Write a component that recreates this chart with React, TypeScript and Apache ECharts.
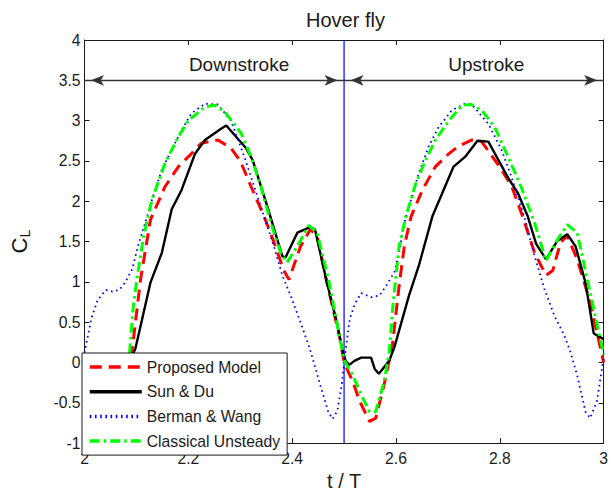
import React, { useEffect, useRef } from 'react';
import * as echarts from 'echarts';

const SERIES_NAMES = ['Proposed Model', 'Sun & Du', 'Berman & Wang', 'Classical Unsteady'];

const X_MIN = 2;
const X_MAX = 3;
const X_STEP = 0.2;
const Y_MIN = -1;
const Y_MAX = 4;
const Y_STEP = 0.5;

const proposedModel: number[][] = [
  [2.0, 0.0], [2.017, -0.24], [2.03, -0.48], [2.049, -0.73], [2.061, -0.69], [2.077, -0.25],
  [2.092, 0.17], [2.108, 1.03], [2.127, 1.77], [2.155, 2.18], [2.181, 2.43], [2.206, 2.59],
  [2.225, 2.72], [2.257, 2.76], [2.282, 2.66], [2.3, 2.5], [2.321, 2.18], [2.346, 1.81],
  [2.365, 1.49], [2.384, 1.14], [2.394, 1.03], [2.416, 1.44], [2.435, 1.65], [2.448, 1.57],
  [2.467, 0.99], [2.492, 0.3], [2.5, 0.0], [2.517, -0.24], [2.53, -0.48], [2.549, -0.73],
  [2.561, -0.69], [2.577, -0.28], [2.593, 0.21], [2.606, 0.95], [2.616, 1.44], [2.629, 1.81],
  [2.651, 2.14], [2.676, 2.43], [2.702, 2.59], [2.72, 2.68], [2.746, 2.76], [2.765, 2.74],
  [2.797, 2.45], [2.822, 2.2], [2.844, 1.81], [2.867, 1.36], [2.889, 1.08], [2.902, 1.14],
  [2.917, 1.49], [2.93, 1.57], [2.949, 1.28], [2.974, 0.75], [3.0, 0.0],
];

const sunDu: number[][] = [
  [2.0, 0.1], [2.01, 0.04], [2.03, 0.06], [2.05, 0.06], [2.06, -0.08], [2.068, -0.14],
  [2.086, 0.0], [2.098, 0.17], [2.127, 0.99], [2.149, 1.36], [2.168, 1.9], [2.187, 2.14],
  [2.213, 2.59], [2.232, 2.76], [2.263, 2.9], [2.273, 2.94], [2.311, 2.66], [2.324, 2.51],
  [2.352, 1.94], [2.381, 1.32], [2.387, 1.3], [2.41, 1.61], [2.435, 1.68], [2.444, 1.65],
  [2.467, 0.99], [2.486, 0.5], [2.497, 0.15], [2.503, 0.02], [2.51, -0.03], [2.52, 0.02],
  [2.533, 0.06], [2.552, 0.06], [2.559, -0.08], [2.567, -0.14], [2.587, 0.02], [2.597, 0.19],
  [2.625, 0.83], [2.644, 1.2], [2.67, 1.81], [2.689, 2.1], [2.711, 2.43], [2.733, 2.55],
  [2.757, 2.75], [2.778, 2.74], [2.816, 2.29], [2.835, 2.1], [2.854, 1.81], [2.87, 1.47],
  [2.889, 1.28], [2.911, 1.51], [2.93, 1.59], [2.946, 1.44], [2.965, 0.99], [2.981, 0.36],
  [3.0, 0.29],
];

const bermanWang: number[][] = [
  [2.0, 0.12], [2.013, 0.54], [2.025, 0.77], [2.041, 0.9], [2.054, 0.88], [2.067, 0.9],
  [2.079, 1.0], [2.092, 1.16], [2.105, 1.49], [2.117, 1.73], [2.13, 2.02], [2.149, 2.39],
  [2.168, 2.64], [2.187, 2.88], [2.206, 3.09], [2.232, 3.21], [2.257, 3.2], [2.282, 3.0],
  [2.308, 2.55], [2.327, 2.18], [2.346, 1.81], [2.365, 1.44], [2.381, 1.08], [2.397, 0.83],
  [2.416, 0.5], [2.435, 0.15], [2.455, -0.3], [2.47, -0.62], [2.478, -0.7], [2.487, -0.6],
  [2.495, -0.3], [2.503, 0.15], [2.511, 0.54], [2.521, 0.73], [2.533, 0.86], [2.552, 0.81],
  [2.568, 0.83], [2.581, 0.95], [2.597, 1.12], [2.606, 1.36], [2.616, 1.73], [2.629, 2.02],
  [2.644, 2.35], [2.663, 2.68], [2.682, 2.92], [2.708, 3.13], [2.733, 3.21], [2.746, 3.2],
  [2.778, 2.96], [2.803, 2.64], [2.822, 2.31], [2.847, 1.81], [2.867, 1.32], [2.886, 0.91],
  [2.905, 0.58], [2.924, 0.34], [2.936, 0.13], [2.949, -0.16], [2.965, -0.61], [2.974, -0.69],
  [2.987, -0.48], [2.997, -0.07], [3.0, 0.05],
];

const classicalUnsteady: number[][] = [
  [2.0, 0.02], [2.017, -0.16], [2.033, -0.4], [2.049, -0.61], [2.061, -0.61], [2.077, -0.24],
  [2.087, 0.13], [2.094, 0.7], [2.102, 1.08], [2.114, 1.57], [2.13, 2.02], [2.155, 2.47],
  [2.181, 2.8], [2.2, 3.0], [2.232, 3.17], [2.251, 3.19], [2.27, 3.11], [2.302, 2.84],
  [2.321, 2.55], [2.34, 2.18], [2.359, 1.73], [2.378, 1.36], [2.39, 1.24], [2.41, 1.44],
  [2.432, 1.7], [2.448, 1.61], [2.47, 1.03], [2.486, 0.5], [2.5, 0.03], [2.517, -0.16],
  [2.533, -0.4], [2.549, -0.61], [2.561, -0.61], [2.577, -0.24], [2.587, 0.13], [2.594, 0.7],
  [2.606, 1.44], [2.619, 1.81], [2.638, 2.22], [2.657, 2.51], [2.676, 2.76], [2.702, 3.0],
  [2.727, 3.19], [2.745, 3.2], [2.765, 3.13], [2.79, 2.92], [2.816, 2.55], [2.841, 2.18],
  [2.867, 1.73], [2.889, 1.26], [2.908, 1.49], [2.93, 1.71], [2.949, 1.61], [2.974, 0.87],
  [3.0, 0.1],
];

const strokeDivider: number[][] = [[2.5, -1], [2.5, 4]];
const strokeNames = ['Downstroke', 'Upstroke'];
const strokeBounds: number[][] = [[2, 2.5], [2.5, 3]];
const strokeArrowLevel = 3.5;

const FONT = '"Liberation Sans", Arial, Helvetica, sans-serif';
const INK = '#1a1a1a';

export default function App() {
  const ref = useRef<HTMLDivElement>(null);

  useEffect(() => {
    document.body.style.margin = '0';
    const chart = echarts.init(ref.current!, null, { renderer: 'svg' });

    const tick = { inside: true, length: 5, lineStyle: { color: INK, width: 1 } };
    const axisLine = { show: true, onZero: false, lineStyle: { color: INK, width: 1 } };

    const lineSeries = (name: string, data: number[][], color: string, width: number, type: any) => ({
      name,
      type: 'line',
      data,
      symbol: 'none',
      showSymbol: false,
      smooth: false,
      lineStyle: { color, width, type },
      itemStyle: { color },
    });

    chart.setOption({
      animation: false,
      textStyle: { fontFamily: FONT },
      title: {
        text: 'Hover fly',
        left: 306,
        top: 10,
        padding: 0,
        textStyle: { fontSize: 20, fontWeight: 'normal', color: INK, fontFamily: FONT },
      },
      grid: { left: 82, right: 5, top: 40, bottom: 50, containLabel: false },
      xAxis: [
        {
          type: 'value',
          min: X_MIN,
          max: X_MAX,
          interval: X_STEP,
          position: 'bottom',
          name: 't / T',
          nameLocation: 'middle',
          nameGap: 26,
          nameTextStyle: { fontSize: 20, color: INK, fontFamily: FONT },
          axisLine,
          axisTick: tick,
          axisLabel: { margin: 7, fontSize: 15.7, color: INK, fontFamily: FONT },
          splitLine: { show: false },
        },
        {
          type: 'value',
          min: X_MIN,
          max: X_MAX,
          interval: X_STEP,
          position: 'top',
          axisLine,
          axisTick: tick,
          axisLabel: { show: false },
          splitLine: { show: false },
        },
      ],
      yAxis: [
        {
          type: 'value',
          min: Y_MIN,
          max: Y_MAX,
          interval: Y_STEP,
          position: 'left',
          name: '{c|C}{l|L}',
          nameLocation: 'middle',
          nameGap: 53,
          nameTextStyle: {
            color: INK,
            fontFamily: FONT,
            rich: {
              c: { fontSize: 22, color: INK, fontFamily: FONT, lineHeight: 25, verticalAlign: 'middle' },
              l: { fontSize: 14, color: INK, fontFamily: FONT, lineHeight: 25, verticalAlign: 'bottom' },
            },
          },
          axisLine,
          axisTick: tick,
          axisLabel: { margin: 4, fontSize: 15.7, color: INK, fontFamily: FONT },
          splitLine: { show: false },
        },
        {
          type: 'value',
          min: Y_MIN,
          max: Y_MAX,
          interval: Y_STEP,
          position: 'right',
          axisLine,
          axisTick: tick,
          axisLabel: { show: false },
          splitLine: { show: false },
        },
      ],
      legend: {
        data: SERIES_NAMES,
        orient: 'vertical',
        left: 82,
        top: 353,
        padding: [6, 7, 6, 6],
        itemWidth: 52,
        itemHeight: 14,
        itemGap: 8.7,
        backgroundColor: '#fff',
        borderColor: INK,
        borderWidth: 1,
        borderRadius: 0,
        itemStyle: { color: 'rgba(0,0,0,0)', borderColor: 'rgba(0,0,0,0)', borderWidth: 0 },
        lineStyle: { width: 3.5 },
        textStyle: { fontSize: 15.7, color: INK, fontFamily: FONT },
      },
      series: [
        {
          name: 'divider',
          type: 'line',
          data: strokeDivider,
          symbol: 'none',
          silent: true,
          lineStyle: { color: '#0000ff', width: 1.2 },
          itemStyle: { color: '#0000ff' },
          markLine: {
            silent: true,
            symbol: ['arrow', 'arrow'],
            symbolSize: [8, 13],
            symbolOffset: [[0, 6.5], [0, 6.5]],
            lineStyle: { color: '#333', width: 1.3, type: 'solid' },
            itemStyle: { color: '#111' },
            label: { show: false },
            data: strokeBounds.map(([a, b]) => [
              { coord: [a, strokeArrowLevel] },
              { coord: [b, strokeArrowLevel] },
            ]),
          },
          markPoint: {
            silent: true,
            symbol: 'circle',
            symbolSize: 0,
            label: { show: true, position: 'inside', formatter: '{b}', fontSize: 19, color: INK, fontFamily: FONT },
            data: [
              { name: strokeNames[0], coord: [2.2977, 3.7] },
              { name: strokeNames[1], coord: [2.774, 3.7] },
            ],
          },
        },
        lineSeries(SERIES_NAMES[0], proposedModel, '#ff0000', 3, [12, 7]),
        lineSeries(SERIES_NAMES[1], sunDu, '#000000', 2.4, 'solid'),
        lineSeries(SERIES_NAMES[2], bermanWang, '#0000ff', 1.8, [1.6, 3.6]),
        lineSeries(SERIES_NAMES[3], classicalUnsteady, '#00ff00', 3, [10, 4, 2.5, 4]),
      ],
    });

    return () => chart.dispose();
  }, []);

  return <div ref={ref} style={{ width: 611, height: 496 }} />;
}
